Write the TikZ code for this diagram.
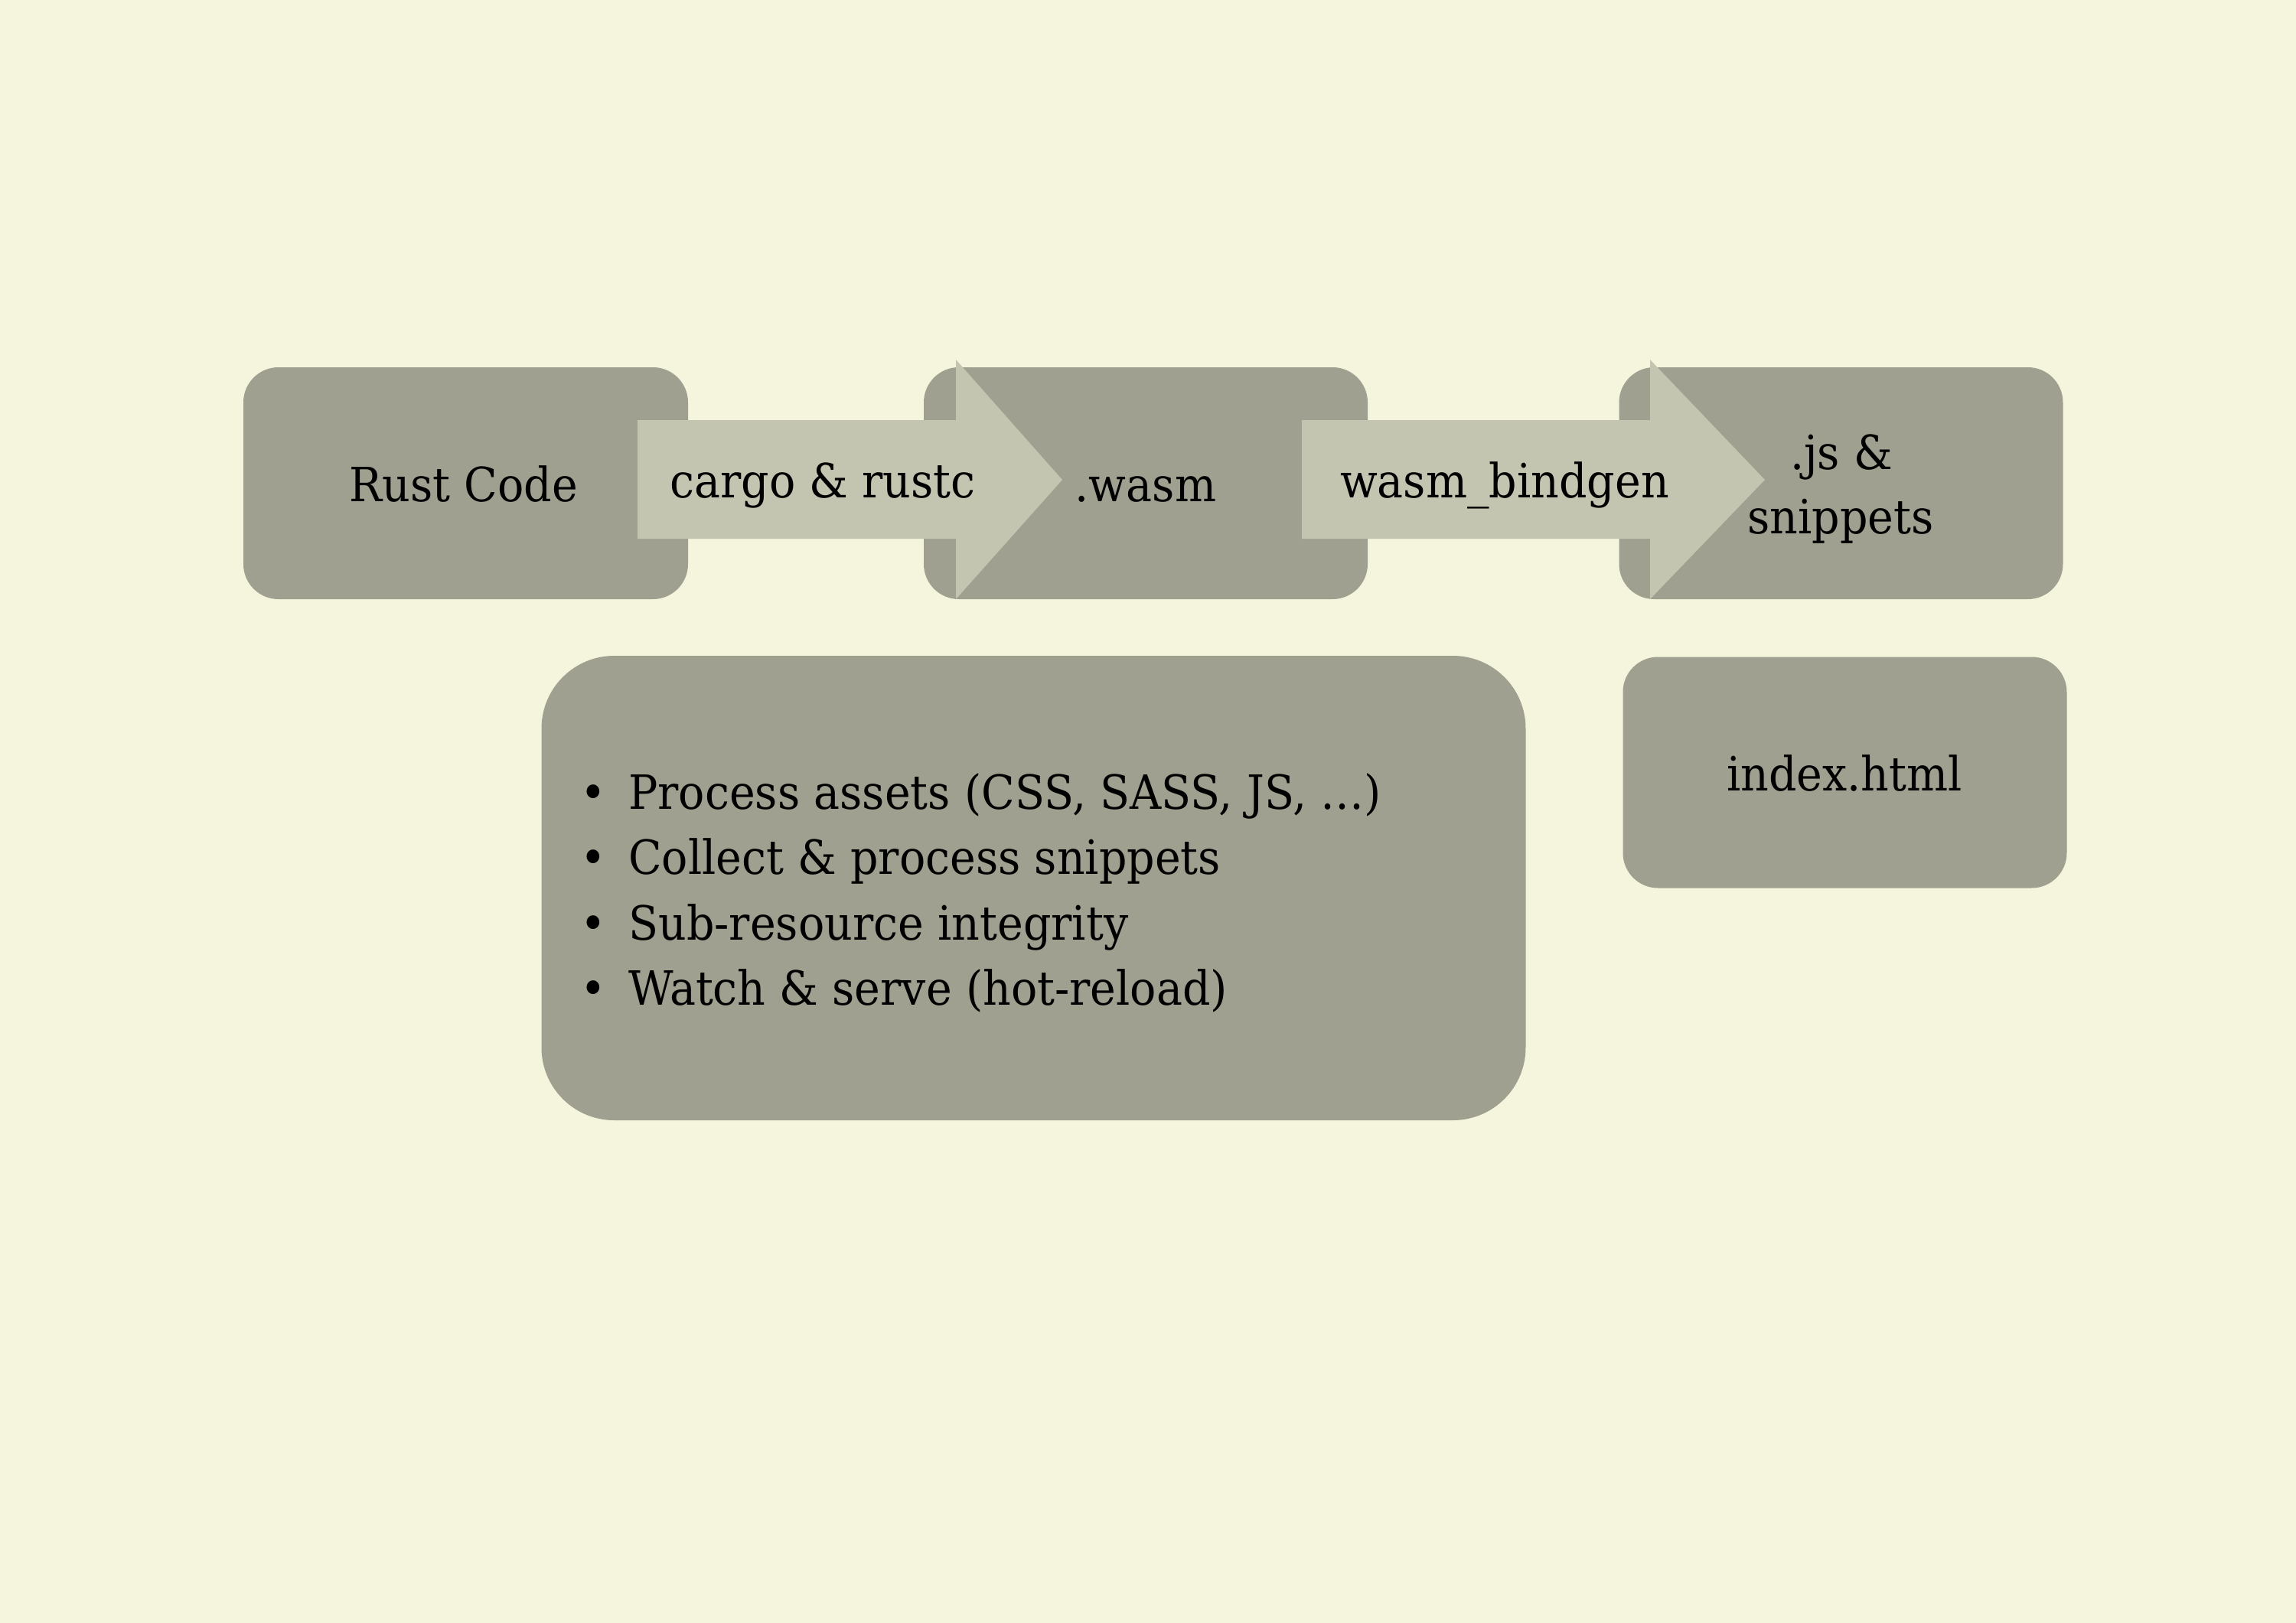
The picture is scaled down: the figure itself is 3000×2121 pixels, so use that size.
\documentclass[tikz,border=0pt]{standalone}
\usepackage{fontspec}
\setmainfont[FakeStretch=0.925]{DejaVu Serif}
\definecolor{bgc}{HTML}{F4F5DC}
\definecolor{boxc}{HTML}{9FA08F}
\definecolor{arrc}{HTML}{C4C5B0}
\begin{document}
\begin{tikzpicture}[x=0.24pt,y=-0.24pt,
  boxst/.style={rectangle, fill=boxc, inner sep=0pt, rounded corners=11pt},
  arrst/.style={fill=arrc},
  lbl/.style={anchor=base, inner sep=0pt, font=\fontsize{14.8pt}{20.5pt}\selectfont, text=black},
  itm/.style={anchor=base west, inner sep=0pt, font=\fontsize{14.8pt}{20.5pt}\selectfont, text=black}]
\useasboundingbox (0,0) rectangle (3000,2121);
\fill[bgc] (0,0) rectangle (3000,2121);
% boxes
\node[boxst, minimum width=139.44pt, minimum height=72.72pt] (rust) at (608.5,631.5) {};
\node[boxst, minimum width=139.2pt, minimum height=72.72pt] (wasm) at (1497,631.5) {};
\node[boxst, minimum width=139.2pt, minimum height=72.72pt] (js) at (2405.5,631.5) {};
\node[boxst, rounded corners=22.8pt, minimum width=308.64pt, minimum height=145.68pt] (list) at (1350.5,1160.5) {};
\node[boxst, minimum width=139.2pt, minimum height=72.48pt] (index) at (2410.5,1009.5) {};
% block arrows
\fill[arrst] (833,549) -- (1249,549) -- (1249,470) -- (1388,627) -- (1249,783) -- (1249,704) -- (833,704) -- cycle;
\fill[arrst] (1701,549) -- (2156,549) -- (2156,470) -- (2306,627) -- (2156,783) -- (2156,704) -- (1701,704) -- cycle;
% labels
\node[lbl] (trust) at (606,655) {Rust Code};
\node[lbl] (tcargo) at (1075,650) {cargo \& rustc};
\node[lbl] (twasm) at (1497,655) {.wasm};
\node[lbl] (tbind) at (1966,650) {wasm\_bindgen};
\node[lbl] (tjs1) at (2406,613) {.js \&};
\node[lbl] (tjs2) at (2405,697) {snippets};
\node[lbl] (tindex) at (2410,1033) {index.html};
% bullet list
\node[itm] (b1) at (758,1057) {\makebox[15pt][l]{•}Process assets (CSS, SASS, JS, …)};
\node[itm] (b2) at (758,1142) {\makebox[15pt][l]{•}Collect \& process snippets};
\node[itm] (b3) at (758,1228) {\makebox[15pt][l]{•}Sub-resource integrity};
\node[itm] (b4) at (758,1313) {\makebox[15pt][l]{•}Watch \& serve (hot-reload)};
\end{tikzpicture}
\end{document}
